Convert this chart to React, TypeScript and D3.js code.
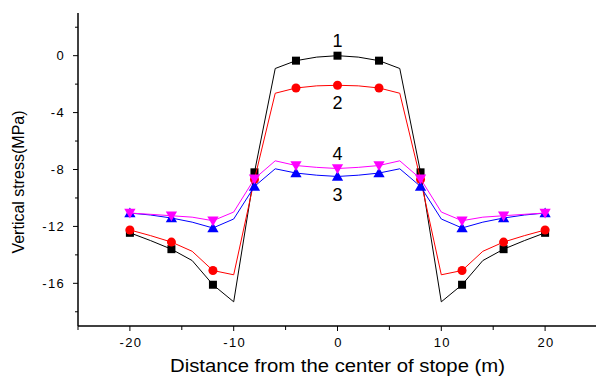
import React from 'react'
import * as d3 from 'd3'

const distance = [-20, -18, -16, -14, -12, -10, -8, -6, -4, -2, 0, 2, 4, 6, 8, 10, 12, 14, 16, 18, 20]
const curve1 = [-12.45, -13.0, -13.6, -14.4, -16.1, -17.3, -8.2, -0.9, -0.35, -0.1, 0, -0.1, -0.35, -0.9, -8.2, -17.3, -16.1, -14.4, -13.6, -13.0, -12.45]
const curve2 = [-12.25, -12.65, -13.1, -13.75, -15.1, -15.4, -8.7, -2.64, -2.27, -2.12, -2.08, -2.12, -2.27, -2.64, -8.7, -15.4, -15.1, -13.75, -13.1, -12.65, -12.25]
const curve3 = [-11.06, -11.2, -11.41, -11.7, -12.11, -11.48, -9.19, -7.95, -8.25, -8.4, -8.49, -8.4, -8.25, -7.95, -9.19, -11.48, -12.11, -11.7, -11.41, -11.2, -11.06]
const curve4 = [-11.06, -11.15, -11.25, -11.35, -11.6, -10.99, -8.65, -7.39, -7.72, -7.85, -7.93, -7.85, -7.72, -7.39, -8.65, -10.99, -11.6, -11.35, -11.25, -11.15, -11.06]

const xMajor = [-20, -10, 0, 10, 20]
const xMinor = [-25, -15, -5, 5, 15, 25]
const yMajor = [0, -4, -8, -12, -16]
const yMinor = [2, -2, -6, -10, -14, -18]

// curve labels: [text, value]
const curveLabels: [string, number][] = [['1', 1.05], ['2', -3.3], ['4', -6.9], ['3', -9.75]]

const series = [
  { values: curve1, color: '#000000', marker: 'square' },
  { values: curve2, color: '#ff0000', marker: 'circle' },
  { values: curve3, color: '#0000ff', marker: 'up' },
  { values: curve4, color: '#ff00ff', marker: 'down' },
]

const font = 'Arial, "Liberation Sans", sans-serif'

export default function App() {
  const x = d3.scaleLinear().domain([-25, 25]).range([78, 597])
  const y = d3.scaleLinear().domain([-19, 3]).range([326, 13])

  const line = d3.line<number>()
    .x((d, i) => x(distance[i]))
    .y(d => y(d))

  const marker = (type: string, cx: number, cy: number, color: string, key: string) => {
    if (type === 'square') return <rect key={key} x={cx - 4} y={cy - 4} width={8} height={8} fill={color} />
    if (type === 'circle') return <circle key={key} cx={cx} cy={cy} r={4.5} fill={color} />
    const sym = d3.symbol().type(d3.symbolTriangle).size(55)()
    return <path key={key} d={sym!} transform={`translate(${cx},${cy + (type === 'up' ? 1 : -1)}) rotate(${type === 'up' ? 0 : 180})`} fill={color} />
  }

  return (
    <svg width={596} height={376} style={{ position: 'absolute', left: 0, top: 0, background: '#fff' }} fontFamily={font}>
      {series.map((s, si) => (
        <g key={si}>
          <path d={line(s.values)!} fill="none" stroke={s.color} strokeWidth={1} />
          {s.values.map((v, i) => distance[i] % 4 === 0 ? marker(s.marker, x(distance[i]), y(v), s.color, `${si}-${i}`) : null)}
        </g>
      ))}

      {/* axes */}
      <line x1={78} x2={78} y1={y(3)} y2={y(-19)} stroke="#000" strokeWidth={1.5} />
      <line x1={x(-25)} x2={x(25)} y1={326} y2={326} stroke="#000" strokeWidth={1.5} />
      {yMajor.map(v => (
        <g key={'ym' + v}>
          <line x1={73} x2={78} y1={y(v)} y2={y(v)} stroke="#000" strokeWidth={1} />
          <text x={65} y={y(v)} dy="0.35em" textAnchor="end" fontSize={13} letterSpacing={1.3}>{v}</text>
        </g>
      ))}
      {yMinor.map(v => <line key={'yn' + v} x1={75} x2={78} y1={y(v)} y2={y(v)} stroke="#000" strokeWidth={1} />)}
      {xMajor.map(v => (
        <g key={'xm' + v}>
          <line x1={x(v)} x2={x(v)} y1={326} y2={331} stroke="#000" strokeWidth={1} />
          <text x={x(v) + 1} y={347} textAnchor="middle" fontSize={13} letterSpacing={1.3}>{v}</text>
        </g>
      ))}
      {xMinor.map(v => <line key={'xn' + v} x1={x(v)} x2={x(v)} y1={326} y2={330} stroke="#000" strokeWidth={1} />)}

      {curveLabels.map(([t, v]) => (
        <text key={t} x={x(0)} y={y(v)} dy="0.35em" textAnchor="middle" fontSize={18}>{t}</text>
      ))}

      <text transform="translate(24,182) rotate(-90)" textAnchor="middle" fontSize={16}>Vertical stress(MPa)</text>
      <text x={337.5} y={372} textAnchor="middle" fontSize={17.5} textLength={335} lengthAdjust="spacingAndGlyphs">Distance from the center of stope (m)</text>
    </svg>
  )
}
